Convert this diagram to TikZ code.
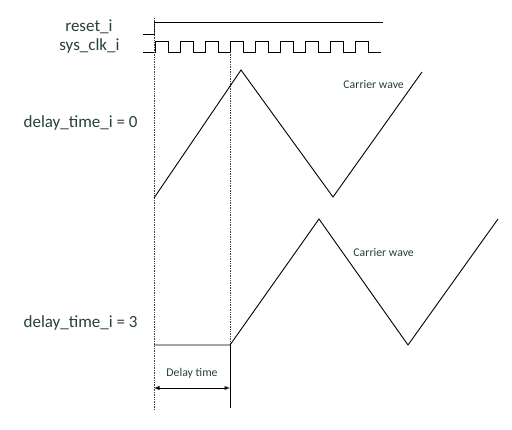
\documentclass[tikz,border=0pt]{standalone}
\usepackage{fontspec}
\setmainfont{Carlito}
\usetikzlibrary{arrows, positioning}
\definecolor{labelgreen}{RGB}{38,66,52}

\begin{document}
\begin{tikzpicture}[x=1pt, y=-1pt, line width=0.9pt,
	siglabel/.style={text=labelgreen, font=\fontsize{17}{20}\selectfont, inner sep=0pt, anchor=base east},
	smalllabel/.style={text=labelgreen, font=\fontsize{11.8}{14}\selectfont, inner sep=0pt, anchor=base west},
	marker/.style={densely dotted, line width=0.7pt, black!75}]
	\useasboundingbox (0,0) rectangle (512,429);

	% signal names
	\node (reset) [siglabel] at (113,31) {reset\_i};
	\node (sysclk) [siglabel] at (120,50) {sys\_clk\_i};
	\node (delayzero) [siglabel] at (138,127) {delay\_time\_i = 0};
	\node (delaythree) [siglabel] at (138,327) {delay\_time\_i = 3};

	% reset and clock
	\draw (143,34) -- (154,34) -- (154,22) -- (383,22);
	\draw (143,52) \foreach \k in {0,...,8} {
		-- ({155+25*\k},52) -- ({155+25*\k},41) -- ({168+25*\k},41) -- ({168+25*\k},52)
	} -- (381,52);

	% time markers
	\coordinate (start) at (154,18);
	\coordinate (startend) at (154,410);
	\coordinate (delaytop) at (230,52);
	\coordinate (delaycorner) at (230,345);
	\coordinate (delayend) at (230,408);
	\draw [marker] (start) -- (startend);
	\draw [marker] (delaytop) -- (delaycorner);
	\draw (delaycorner) -- (delayend);

	% carrier waves
	\draw (154,198) -- (241,70) -- (333,197) -- (422,72);
	\node (carrierzero) [smalllabel] at (343,88) {Carrier wave};
	\draw (154,345) -- (delaycorner) -- (319,219) -- (408,345) -- (498,219);
	\node (carrierthree) [smalllabel] at (353,256) {Carrier wave};

	% delay
	\coordinate (arrowl) at (154,388);
	\coordinate (arrowr) at (230,388);
	\draw [latex-latex] (arrowl) -- (arrowr);
	\node (delaytime) [smalllabel, anchor=base] at (192,376) {Delay time};
\end{tikzpicture}
\end{document}
